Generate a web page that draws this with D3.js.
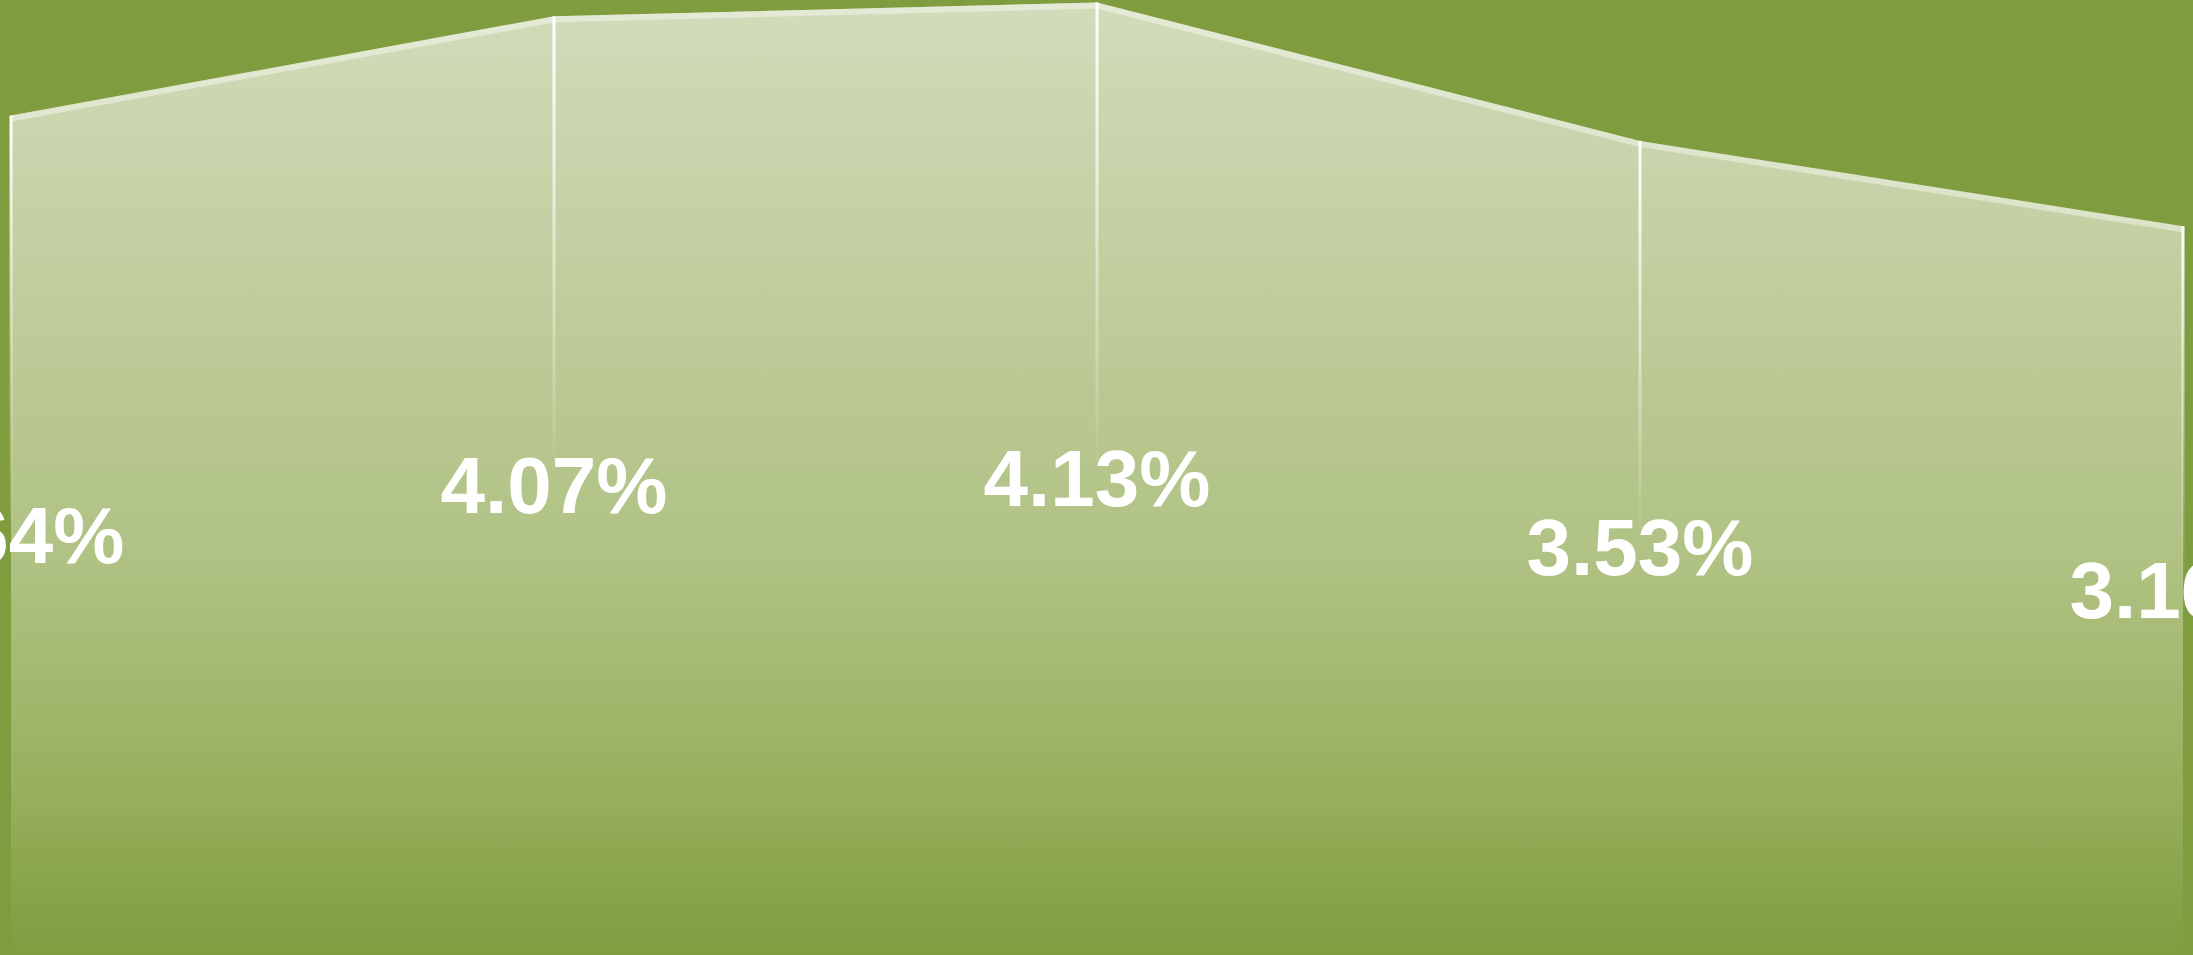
<!DOCTYPE html>
<html>
<head>
<meta charset="utf-8">
<script src="https://cdn.jsdelivr.net/npm/d3@7"></script>
<style>
  html, body { margin: 0; padding: 0; background: #7f9d3f; overflow: hidden; }
  svg { display: block; }
</style>
</head>
<body>
<svg id="chart"></svg>
<script>
// Data
const categories = ["1", "2", "3", "4", "5"];
const values = [3.64, 4.07, 4.13, 3.53, 3.16];
const labels = ["3.64%", "4.07%", "4.13%", "3.53%", "3.16%"];

const width = 2193, height = 955;
const margin = { left: 11, right: 10, top: 2.5, bottom: 0 };

const svg = d3.select("#chart")
	.attr("width", width)
	.attr("height", height);

svg.append("rect")
	.attr("width", width)
	.attr("height", height)
	.attr("fill", "#7f9d3f");

const data = categories.map((c, i) => ({ cat: c, value: values[i], label: labels[i] }));

// Scales
const x = d3.scalePoint()
	.domain(categories)
	.range([margin.left, width - margin.right]);

const y = d3.scaleLinear()
	.domain([0, d3.max(values)])
	.range([height - margin.bottom, margin.top]);

const defs = svg.append("defs");

// Area fill gradient (pale at top, fading into the background)
const areaGrad = defs.append("linearGradient")
	.attr("id", "areaGrad")
	.attr("gradientUnits", "userSpaceOnUse")
	.attr("x1", 0).attr("x2", 0)
	.attr("y1", 0).attr("y2", height);
[
	[0, "#d3dcbb"], [0.16, "#c8d4ab"], [0.47, "#b6c68d"], [0.59, "#afc283"],
	[0.84, "#97ae5b"], [0.92, "#89a54d"], [1, "#809d40"]
].forEach(s => areaGrad.append("stop").attr("offset", s[0]).attr("stop-color", s[1]));

// Vertical drop line gradient
const lineGrad = defs.append("linearGradient")
	.attr("id", "lineGrad")
	.attr("x1", 0).attr("x2", 0)
	.attr("y1", 0).attr("y2", 1);
lineGrad.append("stop").attr("offset", 0).attr("stop-color", "#fff").attr("stop-opacity", 1);
lineGrad.append("stop").attr("offset", 0.2).attr("stop-color", "#fff").attr("stop-opacity", 0.6);
lineGrad.append("stop").attr("offset", 0.5).attr("stop-color", "#fff").attr("stop-opacity", 0);

const area = d3.area()
	.x(d => x(d.cat))
	.y0(y(0))
	.y1(d => y(d.value));

const line = d3.line()
	.x(d => x(d.cat))
	.y(d => y(d.value));

defs.append("clipPath")
	.attr("id", "areaClip")
	.append("path")
		.attr("d", area(data));

// Area
svg.append("path")
	.attr("d", area(data))
	.attr("fill", "url(#areaGrad)");

// Light band just inside the top edge
svg.append("path")
	.attr("d", line(data))
	.attr("fill", "none")
	.attr("stroke", "#fff")
	.attr("stroke-opacity", 0.4)
	.attr("stroke-width", 12)
	.attr("clip-path", "url(#areaClip)");

// Drop lines
svg.selectAll("rect.drop")
	.data(data)
	.join("rect")
		.attr("class", "drop")
		.attr("x", d => x(d.cat) - 1.5)
		.attr("y", d => y(d.value))
		.attr("width", 3)
		.attr("height", d => y(0) - y(d.value))
		.attr("fill", "url(#lineGrad)");

// Value labels, centred in each column of the area
svg.selectAll("text.value")
	.data(data)
	.join("text")
		.attr("class", "value")
		.attr("x", d => x(d.cat))
		.attr("y", d => (y(d.value) + y(0)) / 2)
		.attr("text-anchor", "middle")
		.attr("dominant-baseline", "central")
		.style("font-family", "'Liberation Sans', Arial, sans-serif")
		.style("font-weight", "bold")
		.style("font-size", "80px")
		.style("fill", "#fff")
		.text(d => d.label);
</script>
</body>
</html>
